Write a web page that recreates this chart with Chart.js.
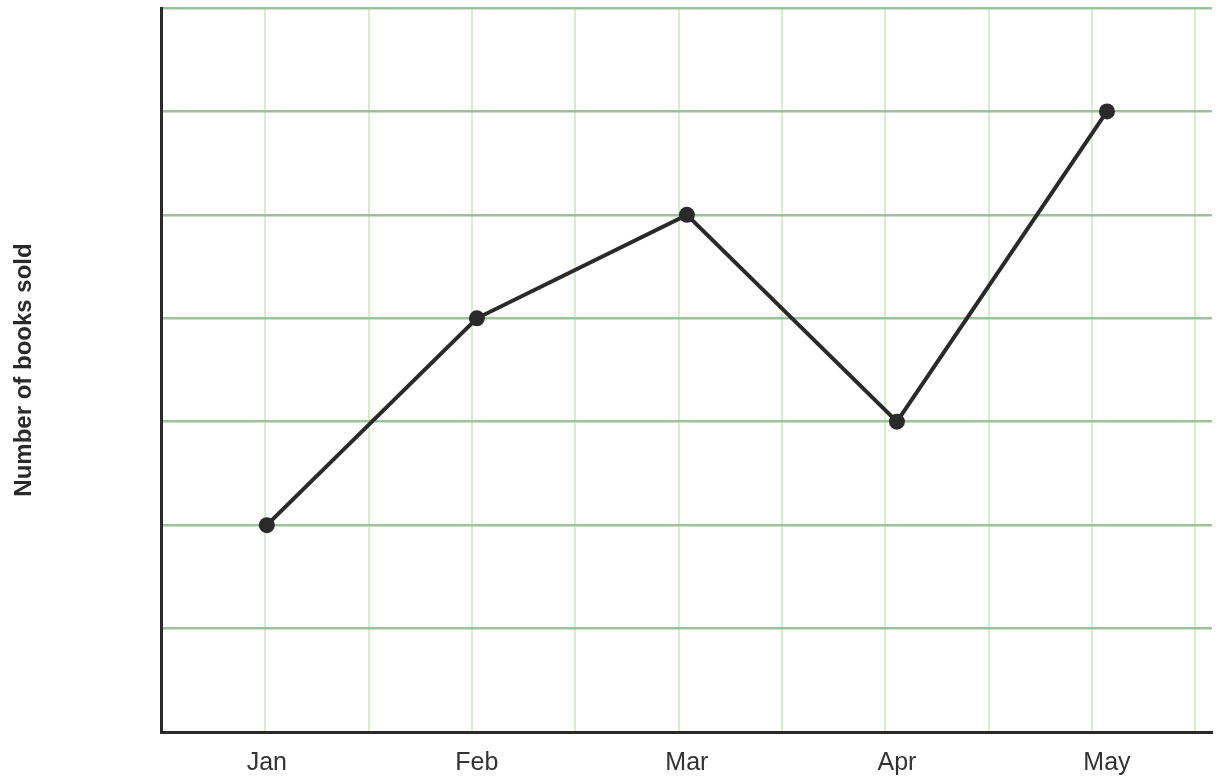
<!DOCTYPE html>
<html lang="en">
  <head>
    <meta charset="UTF-8" />
    <script src="https://cdn.jsdelivr.net/npm/chart.js@4.4.0/dist/chart.umd.min.js"></script>
    <title>Books sold</title>
    <style>
      body { margin: 0; background: #fff; }
      #wrap { width: 1220px; height: 783px; }
    </style>
  </head>
  <body>
    <div id="wrap"><canvas id="myChart"></canvas></div>
    <script>
      const months = ["Jan", "Feb", "Mar", "Apr", "May"];
      const booksSold = [2, 4, 5, 3, 6];
      const yMax = 7;
      const gridMax = 10.16; // columns of the light grid behind the points

      const dark = "#2a2a2a";
      const midGreen = "#9cc29a";
      const lightGreen = "#d9eccf";

      let ctx = document.getElementById("myChart").getContext("2d");
      let myChart = new Chart(ctx, {
        type: "line",
        data: {
          labels: months,
          datasets: [
            {
              label: "Number of books sold",
              data: booksSold,
              borderColor: dark,
              borderWidth: 4,
              backgroundColor: dark,
              pointBackgroundColor: dark,
              pointBorderWidth: 0,
              pointRadius: 8,
              tension: 0,
              xAxisID: "x",
              yAxisID: "y",
            },
          ],
        },
        options: {
          responsive: true,
          maintainAspectRatio: false,
          animation: false,
          layout: { padding: { left: 0, right: 7, top: 7, bottom: -11 } },
          plugins: { legend: { display: false }, tooltip: { enabled: false } },
          scales: {
            x: {
              type: "category",
              position: "bottom",
              offset: true,
              grid: { display: false, drawTicks: false },
              border: { display: true, color: dark, width: 3 },
              ticks: {
                padding: 16,
                color: "#333",
                font: { family: "'Liberation Sans', Arial, sans-serif", size: 25 },
              },
            },
            x2: {
              type: "linear",
              position: "top",
              min: 0,
              max: gridMax,
              ticks: { display: false, stepSize: 1, includeBounds: false },
              border: { display: false },
              grid: {
                drawTicks: false,
                lineWidth: 2,
                color: (c) => (c.tick && c.tick.value === 0 ? "rgba(0,0,0,0)" : lightGreen),
              },
            },
            y: {
              type: "linear",
              min: 0,
              max: yMax,
              ticks: { display: false, stepSize: 1 },
              border: { display: true, color: dark, width: 3 },
              grid: {
                drawTicks: false,
                lineWidth: 2.5,
                color: (c) => (c.tick && c.tick.value === 0 ? "rgba(0,0,0,0)" : midGreen),
              },
              title: {
                display: true,
                text: "Number of books sold",
                color: dark,
                padding: { top: 10, bottom: 123 },
                font: { family: "'Liberation Sans', Arial, sans-serif", size: 24, weight: "bold" },
              },
            },
          },
        },
      });
    </script>
  </body>
</html>
